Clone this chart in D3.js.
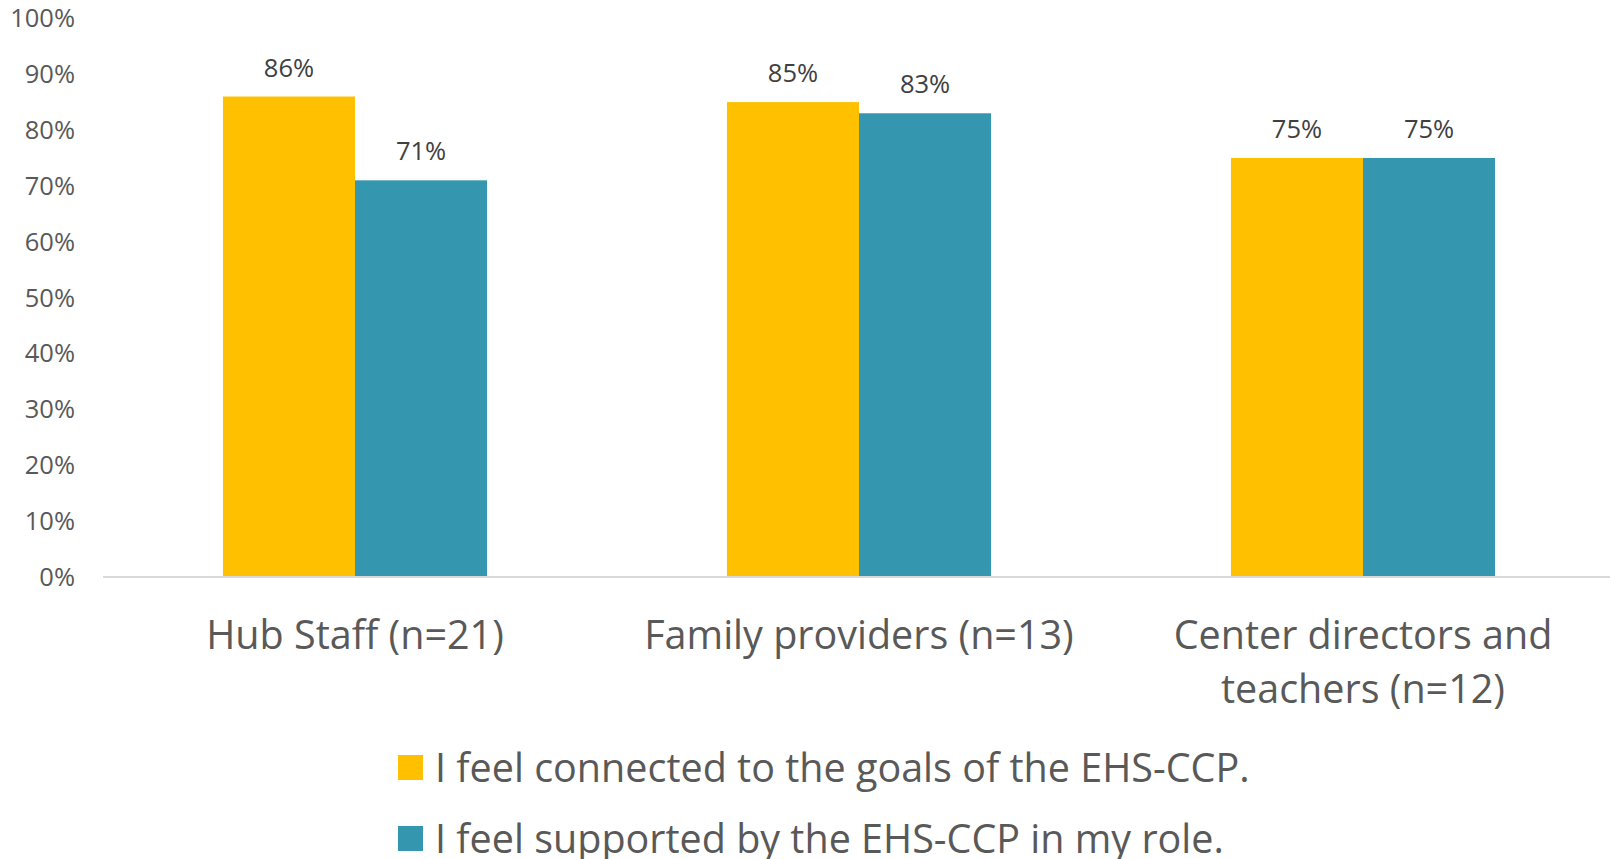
<!DOCTYPE html>
<html>
<head>
<meta charset="utf-8">
<script src="https://cdn.jsdelivr.net/npm/d3@7"></script>
<style>
  body { margin: 0; background: #fff; }
  svg { font-family: "Open Sans", sans-serif; display: block; }
</style>
</head>
<body>
<script>
// data
var categories = ["Hub Staff (n=21)", "Family providers (n=13)", "Center directors and teachers (n=12)"];
var categoryLines = [["Hub Staff (n=21)"], ["Family providers (n=13)"], ["Center directors and", "teachers (n=12)"]];
var seriesNames = ["I feel connected to the goals of the EHS-CCP.", "I feel supported by the EHS-CCP in my role."];
var connected = [86, 85, 75];
var supported = [71, 83, 75];
var yTicks = [0, 10, 20, 30, 40, 50, 60, 70, 80, 90, 100];
var colors = ["#FFC000", "#3597AF"];

var width = 1610, height = 859;
var baseY = 577, topY = 18.3, left = 103, right = 1615;

var svg = d3.select("body").append("svg")
    .attr("width", width)
    .attr("height", height);

var x0 = d3.scaleBand().domain(categories).range([left, right])
    .paddingInner(0.476).paddingOuter(0.238);
var x1 = d3.scaleBand().domain([0, 1]).range([0, x0.bandwidth()]);
var y = d3.scaleLinear().domain([0, 100]).range([baseY, topY]);

// y axis labels (no line, no ticks)
svg.append("g")
    .selectAll("text")
    .data(yTicks)
    .enter().append("text")
    .attr("x", 75)
    .attr("y", function(d) { return y(d); })
    .attr("dy", "0.35em")
    .attr("text-anchor", "end")
    .style("font-size", "25.5px")
    .style("fill", "#595959")
    .text(function(d) { return d + "%"; });

// bars
var table = categories.map(function(c, i) {
  return { cat: c, values: [connected[i], supported[i]] };
});

var groups = svg.selectAll(".grp")
    .data(table)
    .enter().append("g")
    .attr("class", "grp")
    .attr("transform", function(d) { return "translate(" + x0(d.cat) + ",0)"; });

groups.selectAll("rect")
    .data(function(d) { return d.values; })
    .enter().append("rect")
    .attr("x", function(d, i) { return x1(i); })
    .attr("y", function(d) { return y(d); })
    .attr("width", x1.bandwidth())
    .attr("height", function(d) { return baseY - y(d); })
    .attr("fill", function(d, i) { return colors[i]; });

groups.selectAll("text.val")
    .data(function(d) { return d.values; })
    .enter().append("text")
    .attr("class", "val")
    .attr("x", function(d, i) { return x1(i) + x1.bandwidth() / 2; })
    .attr("y", function(d) { return y(d) - 20; })
    .attr("text-anchor", "middle")
    .style("font-size", "25.5px")
    .style("fill", "#404040")
    .text(function(d) { return d + "%"; });

// baseline
svg.append("line")
    .attr("x1", left).attr("x2", right)
    .attr("y1", baseY).attr("y2", baseY)
    .attr("stroke", "#D9D9D9")
    .attr("stroke-width", 2);

// category labels
categories.forEach(function(c, i) {
  var t = svg.append("text")
      .attr("x", x0(c) + x0.bandwidth() / 2)
      .attr("y", 649)
      .attr("text-anchor", "middle")
      .style("font-size", "39.5px")
      .style("fill", "#595959");
  categoryLines[i].forEach(function(line, j) {
    t.append("tspan")
        .attr("x", x0(c) + x0.bandwidth() / 2)
        .attr("dy", j === 0 ? 0 : 54)
        .text(line);
  });
});

// legend
var legend = svg.selectAll(".legend")
    .data(seriesNames)
    .enter().append("g")
    .attr("class", "legend")
    .attr("transform", function(d, i) { return "translate(398," + (755 + i * 71) + ")"; });

legend.append("rect")
    .attr("width", 25)
    .attr("height", 25)
    .attr("fill", function(d, i) { return colors[i]; });

legend.append("text")
    .attr("x", 37)
    .attr("y", 26.5)
    .style("font-size", "39.5px")
    .style("fill", "#595959")
    .text(function(d) { return d; });
</script>
</body>
</html>
